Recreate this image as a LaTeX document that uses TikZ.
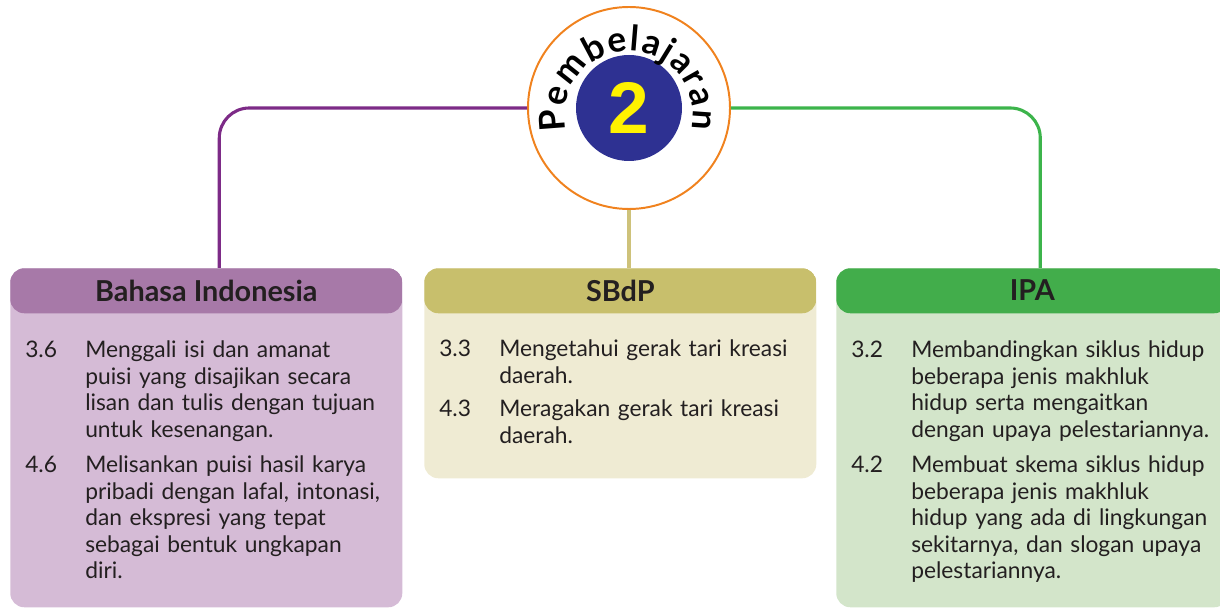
\documentclass[tikz,border=0pt]{standalone}
\usepackage{fontspec}
\setmainfont{Lato}
\newfontfamily\digitfont{Liberation Sans}
\usepackage{xcolor}
\usepackage{tikz}
\usetikzlibrary{positioning, calc, decorations.text}
\definecolor{textdark}{HTML}{231F20}
\definecolor{ringorange}{HTML}{F0821E}
\definecolor{coreblue}{HTML}{2E3192}
\definecolor{coreyellow}{HTML}{FFF200}
\definecolor{biline}{HTML}{7D2B87}
\definecolor{bihead}{HTML}{A779A8}
\definecolor{bibody}{HTML}{D5BBD6}
\definecolor{sbline}{HTML}{CEC27A}
\definecolor{sbhead}{HTML}{C8BF6C}
\definecolor{sbbody}{HTML}{EFEBD3}
\definecolor{ipaline}{HTML}{3CB44B}
\definecolor{ipahead}{HTML}{42AD4B}
\definecolor{ipabody}{HTML}{D3E5CA}
\tikzset{
  subjbox/.style={
    rectangle,
    rounded corners=10pt,
    minimum width=9.8cm,
    anchor=north west,
    inner sep=0pt
  },
  headfill/.style={
    path picture={
      \fill[#1] (path picture bounding box.north west)
        rectangle ([yshift=-1.125cm]path picture bounding box.north east);
    }
  },
  headtext/.style={
    font=\bfseries\fontsize{20.5}{22}\selectfont,
    text=textdark,
    inner sep=0pt
  },
  itemnum/.style={
    font=\fontsize{16.2}{18.85}\selectfont,
    text=textdark,
    anchor=base west,
    inner sep=0pt
  },
  itemtext/.style={
    font=\fontsize{16.2}{18.85}\selectfont,
    text=textdark,
    anchor=base west,
    text width=8.2cm,
    align=left,
    inner sep=0pt
  },
  linkline/.style={
    line width=2.2pt,
    rounded corners=0.75cm
  }
}

\begin{document}
\begin{tikzpicture}
  \useasboundingbox (0,0) rectangle (30.5,-15.225);
  % centre ring
  \node[circle, draw=ringorange, line width=1.4pt, fill=white, minimum size=5.05cm] (ring) at (15.725,-2.7) {};
  \node[circle, fill=coreblue, minimum size=2.65cm, inner sep=0pt, text=coreyellow,
        font=\digitfont\bfseries\fontsize{52}{52}\selectfont] (core) at (ring.center) {2};
  \path[decorate, decoration={text along path, text align=fit to path,
        text={|\bfseries\fontsize{25}{25}\selectfont|Pembelajaran}}]
    ($(ring.center)+(0,-0.175)$) ++(194:1.6) arc[start angle=194, end angle=-13, radius=1.6];

  % subject boxes
  \node[subjbox, fill=bibody, headfill=bihead, minimum height=8.475cm] (bi) at (0.25,-6.7) {};
  \node[subjbox, fill=sbbody, headfill=sbhead, minimum height=5.25cm] (sb) at (10.6,-6.7) {};
  \node[subjbox, fill=ipabody, headfill=ipahead, minimum height=8.475cm] (ipa) at (20.9,-6.7) {};

  \node[headtext] (bihd) at ([yshift=-0.5625cm]bi.north) {Bahasa Indonesia};
  \node[headtext] (sbhd) at ([yshift=-0.5625cm]sb.north) {SBdP};
  \node[headtext] (ipahd) at ([yshift=-0.5625cm]ipa.north) {IPA};

  % connectors
  \draw[linkline, biline] (ring.west) -| ([xshift=0.325cm]bi.north);
  \draw[linkline, ipaline] (ring.east) -| ([xshift=0.2cm]ipa.north);
  \draw[line width=2.2pt, sbline] (ring.south) -- (ring.south |- sb.north);

  % Bahasa Indonesia
  \node[itemnum] (bia) at (0.625,-8.95) {3.6};
  \node[itemtext] (biat) at (2.125,-8.95) {Menggali isi dan amanat\\puisi yang disajikan secara\\lisan dan tulis dengan tujuan\\untuk kesenangan.};
  \node[itemnum] (bib) at (0.625,-11.825) {4.6};
  \node[itemtext] (bibt) at (2.125,-11.825) {Melisankan puisi hasil karya\\pribadi dengan lafal, intonasi,\\dan ekspresi yang tepat\\sebagai bentuk ungkapan\\diri.};

  % SBdP
  \node[itemnum] (sba) at (10.975,-8.925) {3.3};
  \node[itemtext] (sbat) at (12.475,-8.925) {Mengetahui gerak tari kreasi\\daerah.};
  \node[itemnum] (sbb) at (10.975,-10.425) {4.3};
  \node[itemtext] (sbbt) at (12.475,-10.425) {Meragakan gerak tari kreasi\\daerah.};

  % IPA
  \node[itemnum] (ipaa) at (21.275,-8.95) {3.2};
  \node[itemtext] (ipaat) at (22.775,-8.95) {Membandingkan siklus hidup\\beberapa jenis makhluk\\hidup serta mengaitkan\\dengan upaya pelestariannya.};
  \node[itemnum] (ipab) at (21.275,-11.825) {4.2};
  \node[itemtext] (ipabt) at (22.775,-11.825) {Membuat skema siklus hidup\\beberapa jenis makhluk\\hidup yang ada di lingkungan\\sekitarnya, dan slogan upaya\\pelestariannya.};
\end{tikzpicture}
\end{document}
